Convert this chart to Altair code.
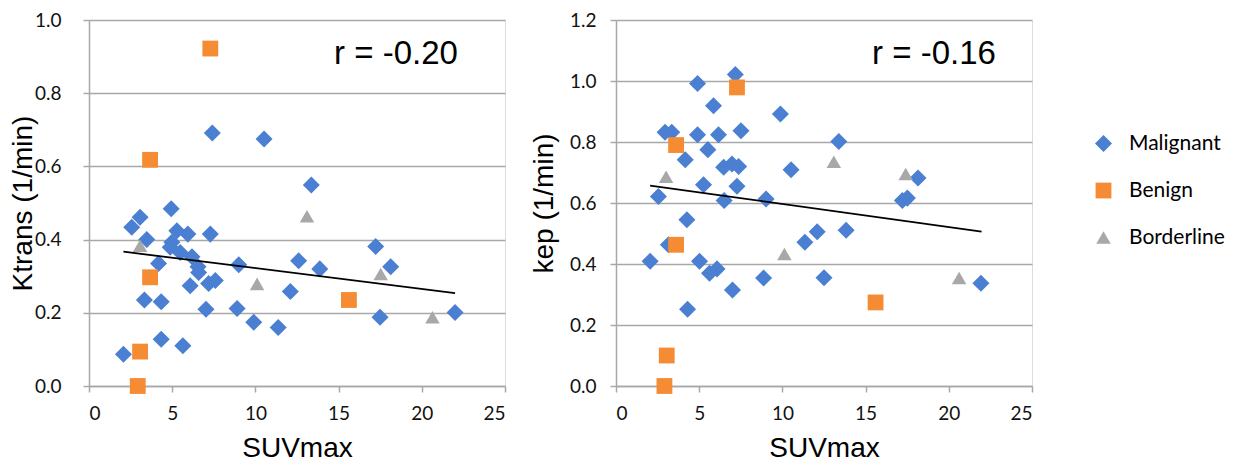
import altair as alt
import pandas as pd

categories = ["Malignant", "Benign", "Borderline"]
colors = ["#4a7fd1", "#f58b32", "#a8a8a8"]
shapes = ["diamond", "square", "triangle-up"]
sizes = [290, 210, 250]

# ---- Left panel: Ktrans vs SUVmax ----
kt_mal_suv = [13.36, 4.94, 3.07, 2.57, 3.47, 5.28, 5.94, 7.29, 4.98, 4.88, 5.48, 6.19, 4.18,
              6.55, 6.59, 9.0, 6.08, 7.19, 7.59, 12.6, 13.87, 12.1, 3.33, 4.34, 7.03, 8.9,
              9.9, 11.37, 4.34, 5.64, 2.07, 7.41, 10.52, 17.23, 18.13, 17.49, 22.0]
kt_mal_val = [0.549, 0.484, 0.461, 0.434, 0.40, 0.424, 0.415, 0.415, 0.393, 0.379, 0.365, 0.353, 0.335,
              0.326, 0.31, 0.331, 0.274, 0.28, 0.288, 0.342, 0.32, 0.258, 0.235, 0.23, 0.21, 0.212,
              0.174, 0.16, 0.128, 0.11, 0.087, 0.691, 0.675, 0.381, 0.326, 0.188, 0.201]
kt_ben_suv = [7.29, 3.67, 3.67, 3.07, 2.93, 15.62]
kt_ben_val = [0.922, 0.618, 0.297, 0.094, 0.0, 0.235]
kt_bor_suv = [13.1, 3.07, 10.1, 17.53, 20.64]
kt_bor_val = [0.464, 0.383, 0.279, 0.306, 0.188]
kt_trend_suv = [2.07, 22.0]
kt_trend_val = [0.367, 0.254]

# ---- Right panel: kep vs SUVmax ----
kep_mal_suv = [7.17, 4.9, 5.86, 9.88, 2.95, 3.35, 4.9, 6.16, 7.51, 5.52, 4.16, 6.47, 6.97,
               7.37, 10.52, 5.26, 7.27, 2.55, 6.5, 9.02, 4.26, 12.09, 11.35, 3.15, 2.05, 5.02,
               6.07, 5.62, 8.87, 12.5, 7.0, 4.3, 13.39, 18.15, 17.21, 17.51, 13.83, 21.93]
kep_mal_val = [1.021, 0.992, 0.919, 0.892, 0.832, 0.832, 0.824, 0.824, 0.837, 0.775, 0.742, 0.717, 0.728,
               0.72, 0.709, 0.66, 0.655, 0.621, 0.608, 0.613, 0.545, 0.506, 0.471, 0.463, 0.409, 0.409,
               0.384, 0.37, 0.354, 0.355, 0.315, 0.252, 0.802, 0.682, 0.608, 0.616, 0.511, 0.337]
kep_ben_suv = [7.27, 3.61, 3.61, 3.05, 2.91, 15.6]
kep_ben_val = [0.979, 0.79, 0.463, 0.10, 0.0, 0.274]
kep_bor_suv = [3.01, 10.12, 13.09, 17.41, 20.62]
kep_bor_val = [0.686, 0.433, 0.735, 0.695, 0.354]
kep_trend_suv = [2.05, 21.97]
kep_trend_val = [0.657, 0.506]

r_labels = ["r = -0.20", "r = -0.16"]
x_ticks = [0, 5, 10, 15, 20, 25]
kt_ticks = [0.0, 0.2, 0.4, 0.6, 0.8, 1.0]
kep_ticks = [0.0, 0.2, 0.4, 0.6, 0.8, 1.0, 1.2]

GRID = "#a8a8a8"
W, H = 416, 366


def points_df(mal_x, mal_y, ben_x, ben_y, bor_x, bor_y):
    rows = []
    for cat, xs, ys in [("Malignant", mal_x, mal_y), ("Benign", ben_x, ben_y), ("Borderline", bor_x, bor_y)]:
        for a, b in zip(xs, ys):
            rows.append({"SUVmax": a, "val": b, "type": cat})
    return pd.DataFrame(rows)


def panel(df, trend_x, trend_y, ymax, yticks, ytitle, r_text, r_x, label_pad, title_x):
    xscale = alt.Scale(domain=[0, 25], nice=False)
    yscale = alt.Scale(domain=[0, ymax], nice=False)
    xaxis = alt.Axis(values=x_ticks, format="d", grid=False, domainColor=GRID, domainWidth=1.5,
                     tickColor=GRID, tickWidth=1.5, tickSize=6, labelFont="Lato", labelFontSize=19,
                     labelColor="#111111", labelPadding=12, title="SUVmax", titleFont="Liberation Sans",
                     titleFontSize=28, titleFontWeight="normal", titleColor="#000000",
                     titleBaseline="alphabetic", titleY=70)
    yaxis = alt.Axis(values=yticks, format=".1f", grid=True, gridColor=GRID, gridWidth=1.5,
                     domainColor=GRID, domainWidth=1.5, tickColor=GRID, tickWidth=1.5, tickSize=6,
                     labelFont="Lato", labelFontSize=19, labelColor="#111111", labelPadding=label_pad,
                     title=ytitle, titleFont="Liberation Sans", titleFontSize=28, titleFontWeight="normal",
                     titleColor="#000000", titleBaseline="alphabetic", titleX=title_x)
    pts = alt.Chart(df).mark_point(filled=True, opacity=1, strokeWidth=0).encode(
        x=alt.X("SUVmax:Q", scale=xscale, axis=xaxis),
        y=alt.Y("val:Q", scale=yscale, axis=yaxis),
        color=alt.Color("type:N", scale=alt.Scale(domain=categories, range=colors),
                        legend=alt.Legend(title=None, orient="none", legendX=1004, legendY=113,
                                          labelFont="Lato", labelFontSize=21, labelColor="#000000",
                                          rowPadding=25, labelOffset=15, symbolStrokeWidth=0)),
        shape=alt.Shape("type:N", scale=alt.Scale(domain=categories, range=shapes)),
        size=alt.Size("type:N", scale=alt.Scale(domain=categories, range=sizes)),
    )
    tdf = pd.DataFrame({"SUVmax": trend_x, "val": trend_y})
    line = alt.Chart(tdf).mark_line(color="#000000", strokeWidth=1.8).encode(
        x=alt.X("SUVmax:Q", scale=xscale), y=alt.Y("val:Q", scale=yscale))
    txt = alt.Chart(pd.DataFrame({"t": [r_text]})).mark_text(
        font="Liberation Sans", fontSize=33, align="center", baseline="alphabetic", color="#000000"
    ).encode(text="t:N", x=alt.value(r_x), y=alt.value(44))
    return alt.layer(pts, line, txt).properties(width=W, height=H)


left = panel(points_df(kt_mal_suv, kt_mal_val, kt_ben_suv, kt_ben_val, kt_bor_suv, kt_bor_val),
             kt_trend_suv, kt_trend_val, 1.0, kt_ticks, "Ktrans (1/min)", r_labels[0], 307, 22, -58)
right = panel(points_df(kep_mal_suv, kep_mal_val, kep_ben_suv, kep_ben_val, kep_bor_suv, kep_bor_val),
              kep_trend_suv, kep_trend_val, 1.2, kep_ticks, "kep (1/min)", r_labels[1], 318, 14, -64)

chart = alt.hconcat(left, right, spacing=111, bounds="flush").properties(
    padding={"left": 0, "top": 2, "right": 5, "bottom": 5}
).configure_view(stroke=None).configure(background="white")

chart.save("out.html", embed_options={"renderer": "svg", "actions": False})
